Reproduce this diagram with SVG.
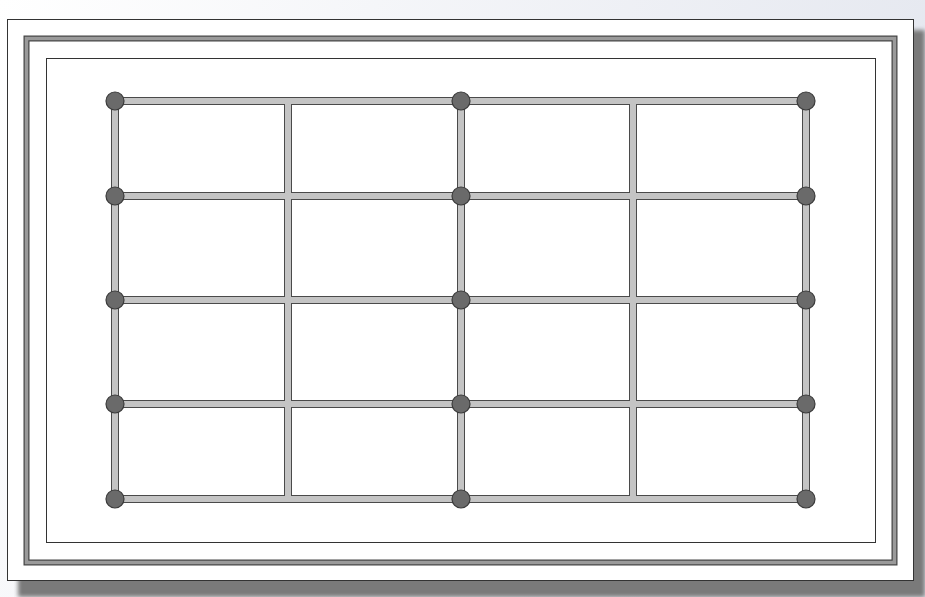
<svg xmlns="http://www.w3.org/2000/svg" width="925" height="597" viewBox="0 0 925 597">
<defs>
<linearGradient id="bg" x1="0" y1="0" x2="1" y2="0.3">
<stop offset="0" stop-color="#ffffff"/>
<stop offset="1" stop-color="#e4e7ef"/>
</linearGradient>
<filter id="blur" x="-5%" y="-5%" width="110%" height="110%"><feGaussianBlur stdDeviation="2"/></filter>
<style>
.edge{stroke:#4a4a4a;stroke-width:8;stroke-linecap:square;fill:none}
.fill{stroke:#c4c4c4;stroke-width:6;stroke-linecap:square;fill:none}
.node{fill:#6a6a6a;stroke:#3a3a3a;stroke-width:1.2}
</style>
</defs>
<rect width="925" height="597" fill="url(#bg)"/>
<rect x="18" y="30" width="907" height="567" fill="#7a7a7a" filter="url(#blur)"/>
<rect x="7.5" y="19.5" width="906" height="561" fill="#ffffff" stroke="#333" stroke-width="1"/>
<rect x="26.5" y="38.5" width="868" height="524" fill="none" stroke="#444" stroke-width="6"/>
<rect x="26.5" y="38.5" width="868" height="524" fill="none" stroke="#9a9a9a" stroke-width="3.6"/>
<rect x="46.5" y="58.5" width="829" height="484" fill="#ffffff" stroke="#333" stroke-width="1"/>
<g id="connectors">
<g class="edge">
<path d="M115 101H806M115 196H806M115 300H806M115 404H806M115 499H806"/>
<path d="M115 101V499M288 101V499M461 101V499M633 101V499M806 101V499"/>
</g>
<g class="fill">
<path d="M115 101H806M115 196H806M115 300H806M115 404H806M115 499H806"/>
<path d="M115 101V499M288 101V499M461 101V499M633 101V499M806 101V499"/>
</g>
</g>
<g id="n1"><circle class="node" cx="115" cy="101" r="9"/></g>
<g id="n2"><circle class="node" cx="461" cy="101" r="9"/></g>
<g id="n3"><circle class="node" cx="806" cy="101" r="9"/></g>
<g id="n4"><circle class="node" cx="115" cy="196" r="9"/></g>
<g id="n5"><circle class="node" cx="461" cy="196" r="9"/></g>
<g id="n6"><circle class="node" cx="806" cy="196" r="9"/></g>
<g id="n7"><circle class="node" cx="115" cy="300" r="9"/></g>
<g id="n8"><circle class="node" cx="461" cy="300" r="9"/></g>
<g id="n9"><circle class="node" cx="806" cy="300" r="9"/></g>
<g id="n10"><circle class="node" cx="115" cy="404" r="9"/></g>
<g id="n11"><circle class="node" cx="461" cy="404" r="9"/></g>
<g id="n12"><circle class="node" cx="806" cy="404" r="9"/></g>
<g id="n13"><circle class="node" cx="115" cy="499" r="9"/></g>
<g id="n14"><circle class="node" cx="461" cy="499" r="9"/></g>
<g id="n15"><circle class="node" cx="806" cy="499" r="9"/></g>
</svg>
